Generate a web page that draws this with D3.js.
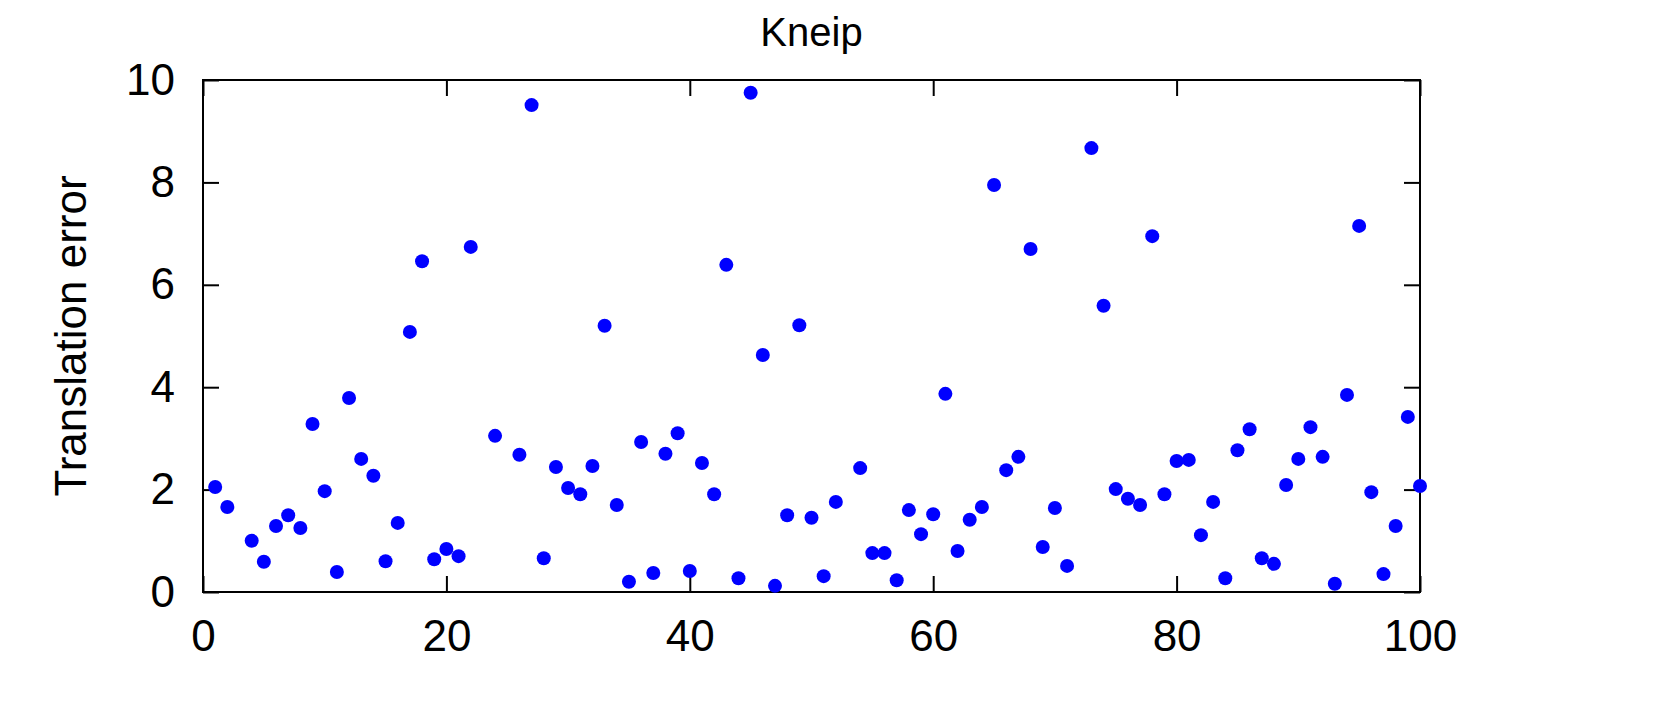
<!DOCTYPE html>
<html><head><meta charset="utf-8">
<script src="https://cdn.jsdelivr.net/npm/d3@7"></script>
<style>body{margin:0;background:#fff}text{font-family:"Liberation Sans",Arial,sans-serif}</style>
</head><body><svg id="c" width="1658" height="707"></svg>
<script>
const title = "Kneip";
const yLabel = "Translation error";
const xTicks = [0, 20, 40, 60, 80, 100];
const yTicks = [0, 2, 4, 6, 8, 10];
const xs = [1,2,4,5,6,7,8,9,10,11,12,13,14,15,16,17,18,19,20,21,22,24,26,27,28,29,30,31,32,33,34,35,36,37,38,39,40,41,42,43,44,45,46,47,48,49,50,51,52,54,55,56,57,58,59,60,61,62,63,64,65,66,67,68,69,70,71,73,74,75,76,77,78,79,80,81,82,83,84,85,86,87,88,89,90,91,92,93,94,95,96,97,98,99,100];
const errors = [2.05,1.66,1.0,0.59,1.29,1.5,1.25,3.28,1.97,0.39,3.79,2.6,2.27,0.6,1.35,5.08,6.46,0.64,0.84,0.7,6.74,3.05,2.68,9.51,0.66,2.44,2.03,1.91,2.46,5.2,1.7,0.2,2.93,0.37,2.7,3.1,0.41,2.52,1.91,6.39,0.27,9.75,4.63,0.12,1.5,5.21,1.45,0.31,1.76,2.42,0.76,0.76,0.23,1.6,1.13,1.52,3.87,0.8,1.41,1.66,7.95,2.38,2.64,6.7,0.88,1.64,0.51,8.67,5.59,2.01,1.82,1.7,6.95,1.91,2.56,2.58,1.11,1.76,0.27,2.77,3.18,0.66,0.55,2.09,2.6,3.22,2.64,0.16,3.85,7.15,1.95,0.35,1.29,3.42,2.07];

const svg = d3.select("#c");
const L = 203, R = 1420, T = 80, B = 592;
const x = d3.scaleLinear().domain([0, 100]).range([L, R]);
const y = d3.scaleLinear().domain([0, 10]).range([B, T]);
const tl = 16;
const fs = 44;

function styleAxis(g, hideText) {
  g.select(".domain").remove();
  g.selectAll("line").attr("stroke", "#000").attr("stroke-width", 2);
  g.selectAll("text").attr("font-size", fs).attr("fill", "#000")
    .attr("font-family", "Liberation Sans, Arial, sans-serif");
  if (hideText) g.selectAll("text").remove();
}
svg.append("g").attr("transform", `translate(0,${B})`)
  .call(d3.axisBottom(x).tickValues(xTicks).tickSize(-tl).tickPadding(tl + 12))
  .call(g => styleAxis(g));
svg.append("g").attr("transform", `translate(0,${T})`)
  .call(d3.axisTop(x).tickValues(xTicks).tickSize(-tl))
  .call(g => styleAxis(g, true));
svg.append("g").attr("transform", `translate(${L},0)`)
  .call(d3.axisLeft(y).tickValues(yTicks).tickSize(-tl).tickPadding(tl + 12))
  .call(g => styleAxis(g));
svg.append("g").attr("transform", `translate(${R},0)`)
  .call(d3.axisRight(y).tickValues(yTicks).tickSize(-tl))
  .call(g => styleAxis(g, true));

svg.append("rect").attr("x", L).attr("y", T).attr("width", R - L).attr("height", B - T)
  .attr("fill", "none").attr("stroke", "#000").attr("stroke-width", 2);

svg.append("g").selectAll("circle").data(xs).join("circle")
  .attr("cx", d => x(d)).attr("cy", (d, i) => y(errors[i]))
  .attr("r", 7).attr("fill", "#0000ff");

svg.append("text").attr("x", (L + R) / 2).attr("y", 46).attr("text-anchor", "middle")
  .attr("font-size", 40).text(title);
svg.append("text").attr("transform", `translate(86,${(T + B) / 2}) rotate(-90)`)
  .attr("text-anchor", "middle").attr("font-size", fs).text(yLabel);
</script></body></html>
